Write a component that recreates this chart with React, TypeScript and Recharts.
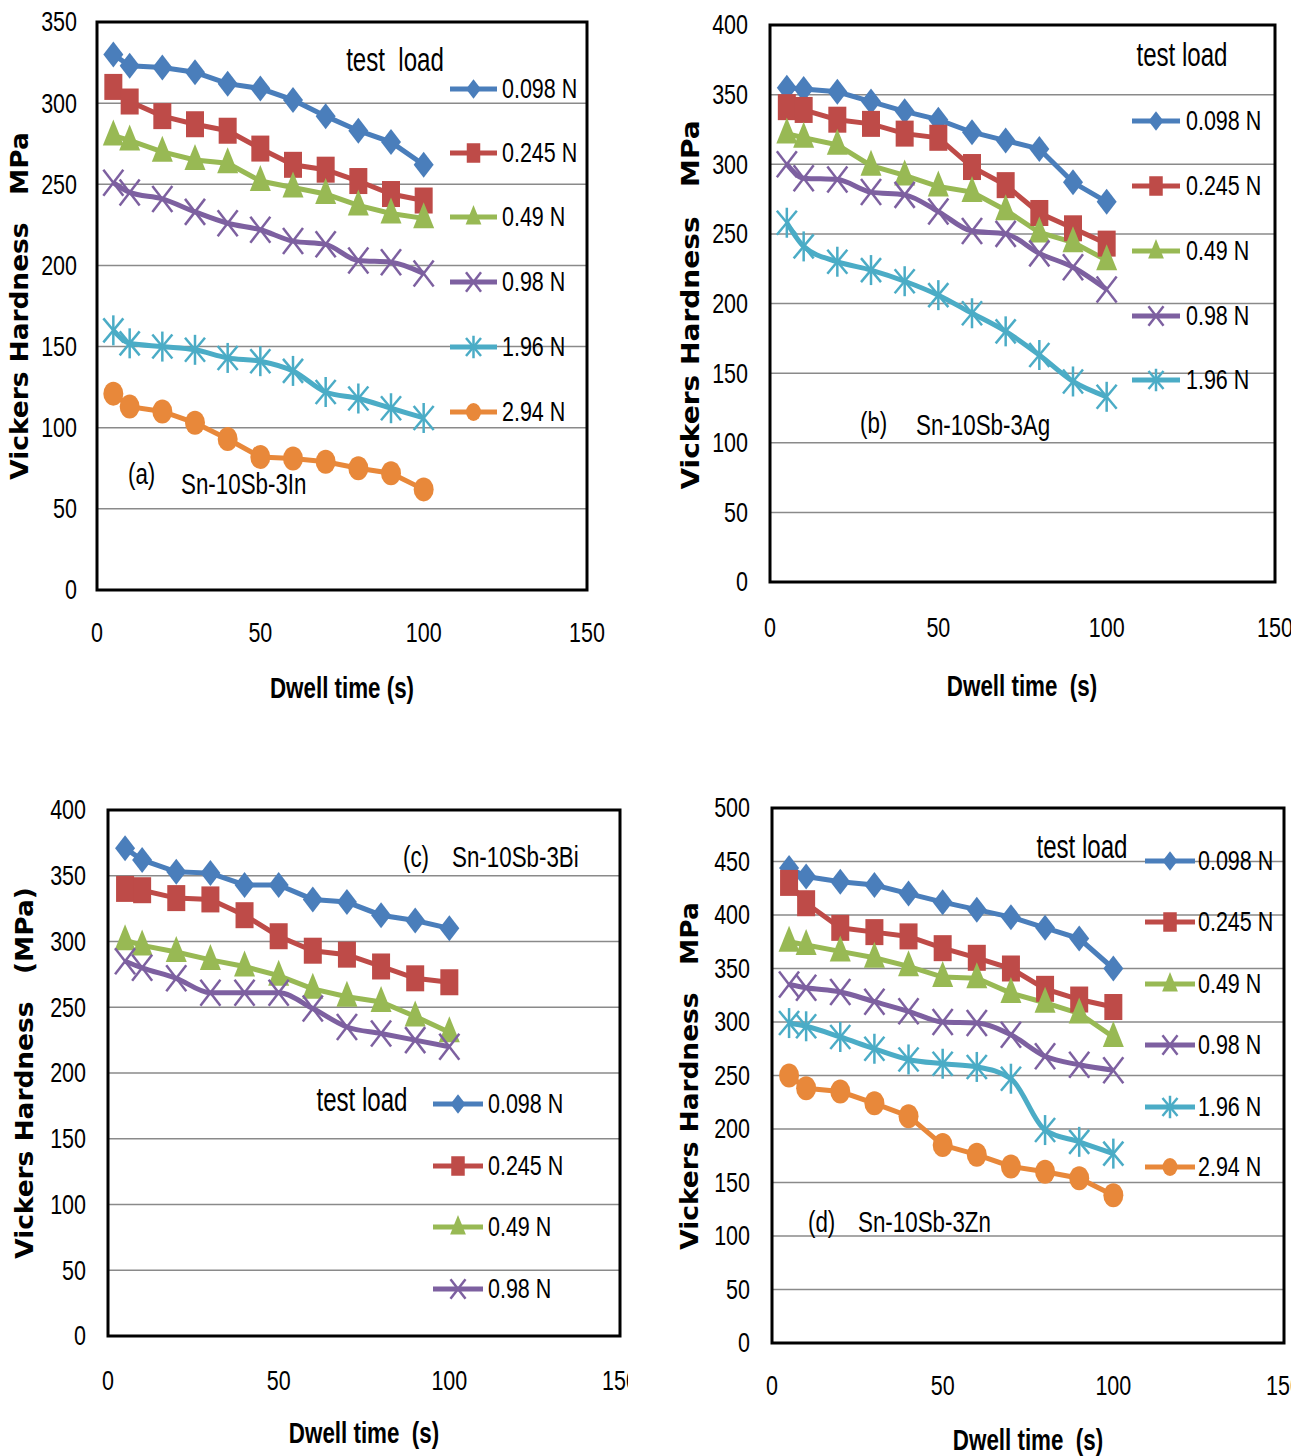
import React from 'react';
import { LineChart, Line, XAxis, YAxis, CartesianGrid, ReferenceArea, Legend } from 'recharts';

// ---------- data ----------
const TIME = [5, 10, 20, 30, 40, 50, 60, 70, 80, 90, 100];
const X_TICKS = [0, 50, 100, 150];
const LOADS = ['0.098 N', '0.245 N', '0.49 N', '0.98 N', '1.96 N', '2.94 N'];
const KEYS = ['s098', 's245', 's49', 's98', 's196', 's294'];
const COLORS = ['#4A7EBB', '#BE4B48', '#98B954', '#7D60A0', '#4BACC6', '#E8883A'];
const MARKERS = ['diamond', 'square', 'triangle', 'x', 'star', 'circle'];
const SMOOTH = [false, false, false, true, true, false];

// (a) Sn-10Sb-3In
const A_098 = [330, 323, 322, 319, 312, 309, 302, 292, 283, 276, 262];
const A_245 = [310, 301, 292, 287, 283, 272, 262, 259, 252, 244, 240];
const A_49 = [280, 277, 270, 265, 263, 252, 248, 244, 237, 232, 229];
const A_98 = [251, 245, 241, 233, 226, 222, 215, 213, 203, 202, 195];
const A_196 = [160, 152, 150, 148, 143, 141, 135, 122, 118, 112, 106];
const A_294 = [121, 113, 110, 103, 93, 82, 81, 79, 75, 72, 62];
const A_YTICKS = [0, 50, 100, 150, 200, 250, 300, 350];

// (b) Sn-10Sb-3Ag
const B_098 = [355, 354, 352, 345, 338, 332, 323, 317, 311, 287, 273];
const B_245 = [341, 339, 332, 329, 322, 319, 298, 285, 265, 254, 243];
const B_49 = [322, 319, 314, 299, 292, 284, 280, 267, 251, 244, 231];
const B_98 = [300, 290, 289, 280, 278, 266, 252, 250, 236, 226, 210];
const B_196 = [258, 241, 230, 224, 216, 206, 193, 180, 163, 144, 133];
const B_YTICKS = [0, 50, 100, 150, 200, 250, 300, 350, 400];

// (c) Sn-10Sb-3Bi
const C_098 = [371, 362, 353, 352, 343, 343, 332, 330, 320, 316, 310];
const C_245 = [340, 339, 333, 332, 320, 304, 293, 290, 281, 272, 269];
const C_49 = [301, 297, 292, 286, 281, 274, 264, 258, 254, 243, 231];
const C_98 = [285, 280, 272, 261, 261, 261, 249, 235, 230, 225, 220];
const C_YTICKS = [0, 50, 100, 150, 200, 250, 300, 350, 400];

// (d) Sn-10Sb-3Zn
const D_098 = [444, 436, 431, 428, 420, 412, 405, 398, 388, 378, 350];
const D_245 = [430, 411, 388, 384, 380, 369, 360, 350, 331, 321, 314];
const D_49 = [375, 372, 366, 360, 352, 342, 341, 327, 318, 308, 286];
const D_98 = [335, 332, 328, 319, 310, 300, 299, 288, 268, 260, 255];
const D_196 = [299, 296, 286, 275, 265, 261, 258, 247, 199, 188, 177];
const D_294 = [250, 238, 235, 224, 212, 185, 176, 165, 160, 154, 138];
const D_YTICKS = [0, 50, 100, 150, 200, 250, 300, 350, 400, 450, 500];

// ---------- layout ----------
const PW = 1309;
const PH = 1456;

const PANELS = [
  {
    id: 'a', L: 97, T: 22, R: 587, B: 590, yMax: 350, yTicks: A_YTICKS, xTickOff: 43, yTickGap: 20, clipRight: 1309,
    series: [A_098, A_245, A_49, A_98, A_196, A_294],
    legend: { testText: 'test  load', testX: 395, testY: 60, ys: [89, 153, 217, 282, 347, 412], x1: 450, x2: 497, tx: 502 },
    yTitle: { text: 'Vickers Hardness   MPa', x: 20, y: 306, fs: 24 },
    xTitle: { text: 'Dwell time (s)', x: 342, y: 688 },
    annot: [{ text: '(a)', x: 128, y: 474 }, { text: 'Sn-10Sb-3In', x: 181, y: 484 }],
  },
  {
    id: 'b', L: 770, T: 25, R: 1275, B: 582, yMax: 400, yTicks: B_YTICKS, xTickOff: 46, yTickGap: 22, clipRight: 1291,
    series: [B_098, B_245, B_49, B_98, B_196],
    legend: { testText: 'test load', testX: 1182, testY: 55, ys: [121, 186, 251, 316, 380], x1: 1132, x2: 1180, tx: 1186 },
    yTitle: { text: 'Vickers Hardness   MPa', x: 690, y: 305, fs: 25.5 },
    xTitle: { text: 'Dwell time  (s)', x: 1022, y: 686 },
    annot: [{ text: '(b)', x: 860, y: 423 }, { text: 'Sn-10Sb-3Ag', x: 916, y: 425 }],
  },
  {
    id: 'c', L: 108, T: 810, R: 620, B: 1336, yMax: 400, yTicks: C_YTICKS, xTickOff: 45, yTickGap: 22, clipRight: 628,
    series: [C_098, C_245, C_49, C_98],
    legend: { testText: 'test load', testX: 362, testY: 1100, ys: [1104, 1166, 1227, 1289], x1: 433, x2: 483, tx: 488 },
    yTitle: { text: 'Vickers Hardness   (MPa)', x: 25, y: 1073, fs: 24 },
    xTitle: { text: 'Dwell time  (s)', x: 364, y: 1433 },
    annot: [{ text: '(c)', x: 403, y: 857 }, { text: 'Sn-10Sb-3Bi', x: 452, y: 857 }],
  },
  {
    id: 'd', L: 772, T: 808, R: 1284, B: 1343, yMax: 500, yTicks: D_YTICKS, xTickOff: 43, yTickGap: 22, clipRight: 1291,
    series: [D_098, D_245, D_49, D_98, D_196, D_294],
    legend: { testText: 'test load', testX: 1082, testY: 847, ys: [861, 922, 984, 1045, 1107, 1167], x1: 1145, x2: 1195, tx: 1198 },
    yTitle: { text: 'Vickers Hardness   MPa', x: 690, y: 1076, fs: 24 },
    xTitle: { text: 'Dwell time  (s)', x: 1028, y: 1440 },
    annot: [{ text: '(d)', x: 808, y: 1222 }, { text: 'Sn-10Sb-3Zn', x: 858, y: 1222 }],
  },
];

const NARROW = "'Liberation Sans', Arial, sans-serif";
const BOLDF = "'DejaVu Sans', Verdana, sans-serif";

function Txt({ x, y, children, fs = 25, sx = 0.86, sy = 1.1, anchor = 'start', weight = 400, rot = 0, family = NARROW }: any) {
  return (
    <text
      transform={`translate(${x},${y}) rotate(${rot}) scale(${sx},${sy})`}
      x={0}
      y={0}
      fontSize={fs}
      fontFamily={family}
      fontWeight={weight}
      textAnchor={anchor}
      dominantBaseline="central"
      fill="#000"
      style={{ whiteSpace: 'pre' }}
    >
      {children}
    </text>
  );
}

function Marker({ type, cx, cy, color, s = 1 }: any) {
  if (cx == null || cy == null) return null;
  switch (type) {
    case 'diamond':
      return <polygon points={`${cx},${cy - 13 * s} ${cx + 10 * s},${cy} ${cx},${cy + 13 * s} ${cx - 10 * s},${cy}`} fill={color} />;
    case 'square':
      return <rect x={cx - 9 * s} y={cy - 13 * s} width={18 * s} height={26 * s} fill={color} />;
    case 'triangle':
      return <polygon points={`${cx},${cy - 16 * s} ${cx + 10.5 * s},${cy + 10 * s} ${cx - 10.5 * s},${cy + 10 * s}`} fill={color} />;
    case 'x':
      return (
        <g stroke={color} strokeWidth={2.5}>
          <line x1={cx - 10 * s} y1={cy - 13 * s} x2={cx + 10 * s} y2={cy + 13 * s} />
          <line x1={cx - 10 * s} y1={cy + 13 * s} x2={cx + 10 * s} y2={cy - 13 * s} />
        </g>
      );
    case 'star':
      return (
        <g stroke={color} strokeWidth={2.5}>
          <line x1={cx - 10 * s} y1={cy - 12 * s} x2={cx + 10 * s} y2={cy + 12 * s} />
          <line x1={cx - 10 * s} y1={cy + 12 * s} x2={cx + 10 * s} y2={cy - 12 * s} />
          <line x1={cx} y1={cy - 15 * s} x2={cx} y2={cy + 15 * s} />
        </g>
      );
    default:
      return <ellipse cx={cx} cy={cy} rx={10 * s} ry={12 * s} fill={color} />;
  }
}

const XTick = (props: any) => (
  <Txt x={props.x} y={props.y} anchor="middle">{props.payload.value}</Txt>
);
const YTick = (props: any) => (
  <Txt x={props.x} y={props.y} anchor="end">{props.payload.value}</Txt>
);

function Panel({ p }: any) {
  const cl = p.L - 100;
  const ct = p.T - 20;
  const cw = p.R - p.L + 160;
  const ch = p.B - p.T + 150;
  const data = TIME.map((t, i) => {
    const row: any = { t };
    p.series.forEach((s: number[], k: number) => {
      row[KEYS[k]] = s[i];
    });
    return row;
  });
  const clipR = Math.max(0, cl + cw - p.clipRight);
  const lg = p.legend;

  const renderLegend = (lp: any) => {
    const payload = lp.payload || [];
    return (
      <svg width={cw} height={ch} style={{ overflow: 'visible', position: 'absolute', left: 0, top: 0 }}>
        <Txt x={lg.testX - cl} y={lg.testY - ct} fs={28} sy={1.2} anchor="middle">{lg.testText}</Txt>
        {payload.map((e: any, i: number) => {
          const k = KEYS.indexOf(e.dataKey);
          const y = lg.ys[i] - ct;
          const x1 = lg.x1 - cl;
          const x2 = lg.x2 - cl;
          return (
            <g key={i}>
              <line x1={x1} x2={x2} y1={y} y2={y} stroke={e.color} strokeWidth={5} />
              <Marker type={MARKERS[k]} cx={(x1 + x2) / 2} cy={y} color={e.color} s={0.75} />
              <Txt x={lg.tx - cl} y={y}>{e.value}</Txt>
            </g>
          );
        })}
      </svg>
    );
  };

  return (
    <div style={{ position: 'absolute', left: cl, top: ct, width: cw, height: ch, clipPath: `inset(0px ${clipR}px 0px 0px)` }}>
      <LineChart width={cw} height={ch} data={data} margin={{ top: 20, right: 60, left: 0, bottom: 0 }}>
        <CartesianGrid horizontal vertical={false} stroke="#8a8a8a" strokeWidth={1.5} />
        <XAxis
          dataKey="t"
          type="number"
          domain={[0, 150]}
          ticks={X_TICKS}
          interval={0}
          height={130}
          axisLine={false}
          tickLine={false}
          tickSize={0}
          tickMargin={p.xTickOff}
          tick={XTick}
        />
        <YAxis
          type="number"
          domain={[0, p.yMax]}
          ticks={p.yTicks}
          interval={0}
          width={100}
          axisLine={false}
          tickLine={false}
          tickSize={0}
          tickMargin={p.yTickGap}
          tick={YTick}
        />
        {p.series.map((_: any, k: number) => (
          <Line
            key={KEYS[k]}
            dataKey={KEYS[k]}
            name={LOADS[k]}
            type={SMOOTH[k] ? 'monotone' : 'linear'}
            stroke={COLORS[k]}
            strokeWidth={5}
            isAnimationActive={false}
            activeDot={false}
            dot={(dp: any) => (
              <Marker key={`${KEYS[k]}-${dp.index}`} type={MARKERS[k]} cx={dp.cx} cy={dp.cy} color={COLORS[k]} />
            )}
          />
        ))}
        <ReferenceArea x1={0} x2={150} y1={0} y2={p.yMax} fill="none" fillOpacity={0} stroke="#000" strokeWidth={3} ifOverflow="visible" />
        <Legend
          layout="vertical"
          align="center"
          verticalAlign="middle"
          wrapperStyle={{ left: 0, top: 0, width: cw, height: ch, pointerEvents: 'none' }}
          content={renderLegend}
        />
      </LineChart>
    </div>
  );
}

export default function App() {
  return (
    <div style={{ position: 'absolute', left: 0, top: 0, width: PW, height: PH, overflow: 'hidden', background: '#fff' }}>
      {PANELS.map((p) => (
        <Panel key={p.id} p={p} />
      ))}
      <svg width={PW} height={PH} style={{ position: 'absolute', left: 0, top: 0, pointerEvents: 'none' }}>
        {PANELS.map((p) => (
          <g key={p.id}>
            <Txt x={p.yTitle.x} y={p.yTitle.y} rot={-90} anchor="middle" fs={p.yTitle.fs} sx={1.1} sy={1} weight={700} family={BOLDF}>
              {p.yTitle.text}
            </Txt>
            <Txt x={p.xTitle.x} y={p.xTitle.y} anchor="middle" fs={26} sx={0.86} sy={1.1} weight={700}>
              {p.xTitle.text}
            </Txt>
            {p.annot.map((a, i) => (
              <Txt key={i} x={a.x} y={a.y} fs={26}>{a.text}</Txt>
            ))}
          </g>
        ))}
      </svg>
    </div>
  );
}
